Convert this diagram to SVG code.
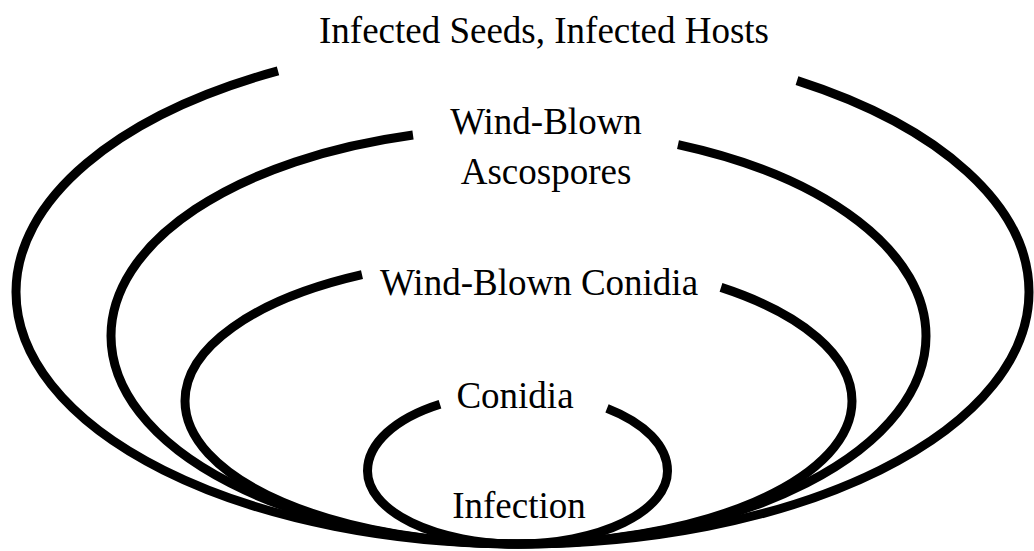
<svg xmlns="http://www.w3.org/2000/svg" width="1034" height="551" viewBox="0 0 1034 551">
  <style>
    .ring { fill: none; stroke: #000; stroke-width: 9; stroke-linecap: butt; }
    .lbl { font-family: "Liberation Serif", "Times New Roman", serif; font-size: 37px; fill: #000; text-anchor: middle; }
  </style>
  <rect width="1034" height="551" fill="#fff"/>
  <g id="ring-infected-seeds-hosts">
    <path class="ring" d="M278,70.9 A504,252 0 0 0 16,292 A504,252 0 0 0 520,544 A509,252 0 0 0 1029,292 A509,252 0 0 0 797,80.6"/>
    <text class="lbl" x="544" y="43">Infected Seeds, Infected Hosts</text>
  </g>
  <g id="ring-wind-blown-ascospores">
    <path class="ring" d="M413,135 A407.5,208 0 0 0 111,336 A407.5,208 0 0 0 518.5,544 A407.5,208 0 0 0 926,336 A407.5,208 0 0 0 678,144.6"/>
    <text class="lbl" x="546" y="134">Wind-Blown</text>
    <text class="lbl" x="546" y="184">Ascospores</text>
  </g>
  <g id="ring-wind-blown-conidia">
    <path class="ring" d="M362,274.7 A333.5,143 0 0 0 185,401 A333.5,143 0 0 0 518.5,544 A333.5,143 0 0 0 852,401 A333.5,143 0 0 0 721,287.4"/>
    <text class="lbl" x="539" y="295">Wind-Blown Conidia</text>
  </g>
  <g id="ring-conidia">
    <path class="ring" d="M440,404.2 A150,78 0 0 0 367.5,471 A150,73 0 0 0 517.5,544 A150,73 0 0 0 667.5,471 A150,78 0 0 0 607,408.4"/>
    <text class="lbl" x="515" y="408">Conidia</text>
  </g>
  <g id="node-infection">
    <text class="lbl" x="519" y="518">Infection</text>
  </g>
</svg>
